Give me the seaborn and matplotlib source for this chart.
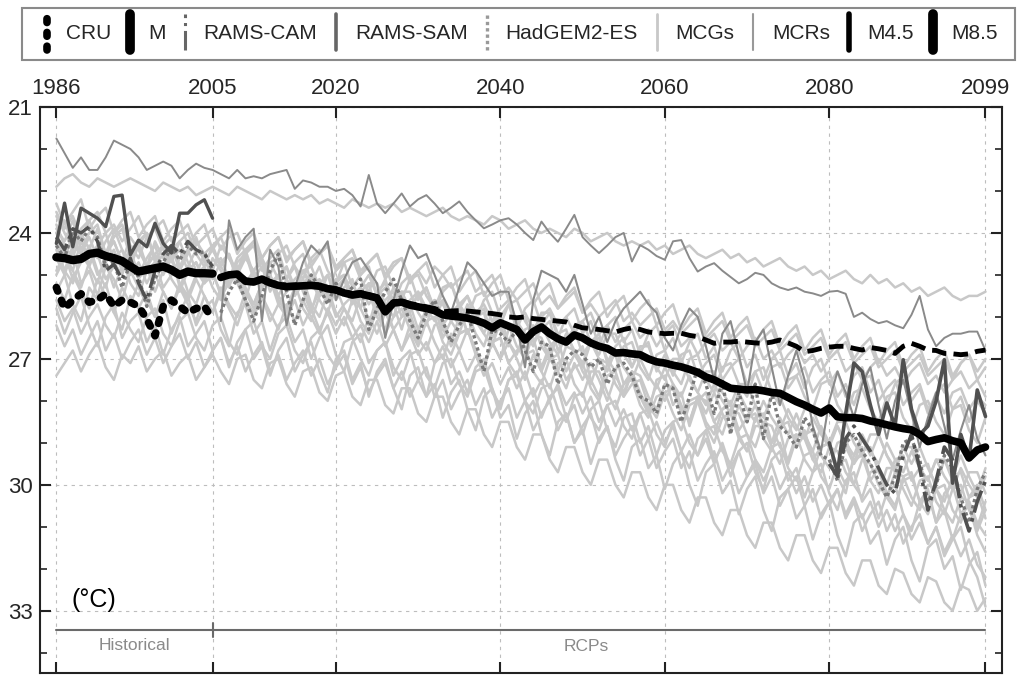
import matplotlib
matplotlib.use("Agg")
import matplotlib.pyplot as plt
import seaborn as sns
from matplotlib.lines import Line2D
from matplotlib.legend_handler import HandlerBase

# ---------------- data ----------------
years_hist = list(range(1986, 2006))
years_fut = list(range(2006, 2100))
years_far = list(range(2080, 2100))
years_all = list(range(1986, 2100))

xticks = [1986, 2005, 2020, 2040, 2060, 2080, 2099]
yticks = [21, 24, 27, 30, 33]

legend_labels = ["CRU", "M", "RAMS-CAM", "RAMS-SAM", "HadGEM2-ES", "MCGs", "MCRs", "M4.5", "M8.5"]

cru = [25.3, 25.8, 25.6, 25.45, 25.65, 25.6, 25.45, 25.75, 25.6, 25.65,
       25.75, 26.05, 26.45, 25.75, 25.6, 25.75, 25.9, 25.8, 25.75, 26.05]

m_hist = [24.58, 24.6, 24.65, 24.62, 24.5, 24.47, 24.55, 24.6, 24.67, 24.8,
          24.92, 24.88, 24.84, 24.8, 24.88, 25.0, 24.92, 24.96, 24.96, 24.97]

m85 = [25.06, 25.00, 24.98, 25.15, 25.17, 25.10, 25.19, 25.25, 25.28, 25.27,
       25.26, 25.25, 25.27, 25.33, 25.36, 25.43, 25.48, 25.45, 25.50, 25.55,
       25.88, 25.67, 25.65, 25.72, 25.76, 25.80, 25.85, 25.95, 25.98, 26.00,
       26.03, 26.08, 26.15, 26.26, 26.14, 26.22, 26.30, 26.55, 26.35, 26.24,
       26.40, 26.52, 26.60, 26.43, 26.50, 26.62, 26.70, 26.75, 26.86, 26.85,
       26.88, 26.90, 27.00, 27.07, 27.10, 27.15, 27.19, 27.25, 27.32, 27.43,
       27.50, 27.60, 27.70, 27.72, 27.74, 27.73, 27.76, 27.80, 27.82, 27.92,
       28.02, 28.10, 28.20, 28.29, 28.17, 28.38, 28.40, 28.40, 28.42, 28.48,
       28.52, 28.57, 28.62, 28.66, 28.69, 28.80, 28.97, 28.92, 28.88, 28.95,
       29.00, 29.36, 29.17, 29.10]

m45 = [25.04, 24.98, 24.97, 25.12, 25.14, 25.08, 25.16, 25.22, 25.25, 25.24,
       25.23, 25.22, 25.24, 25.30, 25.33, 25.40, 25.44, 25.42, 25.47, 25.52,
       25.82, 25.64, 25.62, 25.68, 25.72, 25.76, 25.80, 25.88, 25.86, 25.85,
       25.86, 25.88, 25.90, 25.92, 25.95, 26.00, 26.02, 26.00, 26.04, 26.06,
       26.08, 26.10, 26.12, 26.20, 26.26, 26.28, 26.30, 26.33, 26.36, 26.30,
       26.26, 26.30, 26.36, 26.38, 26.40, 26.39, 26.39, 26.44, 26.47, 26.55,
       26.63, 26.60, 26.60, 26.58, 26.60, 26.62, 26.63, 26.60, 26.55, 26.62,
       26.70, 26.83, 26.80, 26.75, 26.72, 26.70, 26.70, 26.75, 26.79, 26.73,
       26.76, 26.80, 26.87, 26.70, 26.63, 26.70, 26.79, 26.80, 26.87, 26.88,
       26.90, 26.88, 26.82, 26.79]

had_hist = [24.3, 24.6, 23.95, 24.2, 23.9, 24.1, 24.8, 24.7, 25.3, 24.7,
            25.05, 25.75, 25.1, 24.7, 24.35, 24.65, 24.3, 24.5, 24.45, 24.9]
had_fut = [25.9, 25.4, 25.1, 25.6, 26.1, 25.5, 24.9, 24.5, 25.4, 26.2,
           25.6, 25.0, 25.3, 25.7, 25.2, 25.5, 25.3, 25.1, 26.3, 25.8,
           25.4, 25.1, 25.6, 26.1, 26.5, 25.9, 25.6, 26.1, 26.6, 26.2,
           25.9, 26.6, 27.3, 26.3, 26.4, 26.6, 26.3, 26.8, 27.3, 26.6,
           26.7, 27.6, 27.0, 26.8, 26.9, 27.2, 27.0, 27.6, 27.2, 27.1,
           27.4, 27.9, 28.0, 28.3, 27.6, 27.7, 28.5, 27.9, 27.2, 27.6,
           28.3, 27.5, 28.8, 27.8, 28.5, 27.6, 28.9, 27.8, 28.6, 28.8,
           29.1, 28.4, 28.7, 29.3, 29.4, 29.9, 29.0, 28.8, 29.2, 29.5,
           29.9, 30.3, 29.8, 29.0, 28.9, 29.4, 30.4, 30.0, 29.3, 29.6,
           30.3, 30.9, 30.1, 29.7]

cam_hist = [24.1, 24.4, 23.9, 24.0, 23.85, 24.2, 24.9, 24.75, 25.1, 24.6,
            25.2, 25.6, 24.9, 24.5, 24.3, 24.5, 24.2, 24.4, 24.5, 24.8]
cam_far = [29.5, 29.8, 28.9, 28.6, 28.9, 29.2, 29.6, 30.0, 30.2, 29.3,
           28.8, 29.6, 30.6, 29.9, 29.1, 29.4, 30.5, 31.1, 30.4, 29.9]

sam_hist = [24.25, 23.29, 24.33, 23.41, 23.53, 23.65, 23.85, 23.13, 23.1, 24.52,
            24.17, 24.33, 23.77, 24.25, 24.48, 23.53, 23.53, 23.33, 23.21, 23.65]
sam_far = [29.0, 29.7, 28.3, 27.1, 27.3, 28.1, 28.8, 28.05, 28.6, 27.02,
           28.2, 28.8, 28.6, 28.0, 27.02, 29.96, 28.8, 29.4, 27.74, 28.37]

mcr_top = [21.75, 22.1, 22.45, 22.2, 22.5, 22.5, 22.2, 21.8, 21.9, 22.0,
           22.2, 22.5, 22.4, 22.3, 22.4, 22.7, 22.5, 22.35, 22.45, 22.5,
           22.6, 22.7, 22.5, 22.7, 22.65, 22.7, 22.6, 22.55, 22.5, 22.95,
           22.75, 22.8, 22.9, 22.9, 23.0, 22.95, 23.1, 23.37, 22.62, 23.3,
           23.53, 23.3, 23.06, 23.37, 23.2, 23.1, 23.3, 23.53, 23.4, 23.25,
           23.5, 23.7, 23.89, 23.8, 23.7, 23.65, 23.8, 24.0, 24.17, 23.73,
           24.0, 24.21, 23.9, 23.57, 24.1, 24.3, 24.48, 24.3, 24.1, 24.0,
           24.68, 24.29, 24.4, 24.55, 24.64, 24.2, 24.17, 24.6, 24.92, 24.8,
           24.72, 24.9, 25.05, 25.2, 25.1, 24.95, 25.0, 25.2, 25.3, 25.36,
           25.3, 25.4, 25.44, 25.5, 25.4, 25.38, 25.45, 26.0, 25.9, 26.05,
           26.15, 26.1, 26.2, 26.27, 25.95, 25.5, 26.3, 26.7, 26.5, 26.4,
           26.4, 26.35, 26.35, 26.8]

mcr_mid = [26.1, 23.7, 24.4, 24.1, 23.9, 26.1, 24.4, 24.8, 26.2, 25.3,
           24.7, 24.3, 24.5, 24.2, 25.6, 25.1, 24.7, 24.6, 24.9, 25.2,
           26.5, 25.6, 24.9, 24.3, 24.6, 24.5, 25.0, 25.5, 25.9, 25.3,
           24.7, 24.9, 25.2, 25.5, 25.4, 25.4, 26.2, 27.2, 25.6, 24.9,
           25.0, 25.1, 25.4, 25.0, 25.7, 26.4, 26.0, 26.6, 26.1, 25.8,
           25.6, 25.4, 25.7, 25.9, 26.5, 26.8, 26.2, 25.8, 26.0, 26.7,
           27.5, 26.4, 26.1, 26.9, 27.8, 26.6, 26.3, 27.2, 28.1, 27.4,
           26.8, 27.5, 28.6, 29.2, 28.0, 27.3, 27.8, 28.4, 27.6, 27.2,
           28.1, 28.9, 28.0, 27.5, 28.3, 29.1, 28.4, 27.8, 28.6, 29.4,
           28.7, 28.1, 28.9, 29.3]

mcg_1 = [22.9, 22.7, 22.6, 22.8, 22.9, 22.7, 22.8, 22.9, 22.8, 22.7,
         22.8, 22.9, 23.0, 22.8, 22.9, 23.0, 22.9, 23.1, 23.0, 22.9,
         23.0, 23.1, 22.9, 23.0, 23.1, 23.2, 23.0, 23.1, 23.2, 23.1,
         23.2, 23.1, 23.3, 23.2, 23.3, 23.4, 23.2, 23.3, 23.4, 23.3,
         23.4, 23.3, 23.5, 23.4, 23.5, 23.6, 23.5, 23.4, 23.6, 23.7,
         23.6, 23.7, 23.8, 23.6, 23.7, 23.9, 23.8, 23.7, 23.9, 24.0,
         23.9, 24.0, 24.1, 23.9, 24.0, 24.2, 24.1, 24.0, 24.2, 24.3,
         24.2, 24.3, 24.2, 24.4, 24.3, 24.5, 24.4, 24.3, 24.5, 24.6,
         24.5, 24.4, 24.6, 24.5, 24.7, 24.6, 24.8, 24.7, 24.6, 24.8,
         24.9, 24.8, 25.0, 24.9, 25.1, 25.0, 24.9, 25.1, 25.2, 25.0,
         25.2, 25.1, 25.3, 25.2, 25.4, 25.3, 25.5, 25.4, 25.3, 25.5,
         25.6, 25.5, 25.5, 25.4]
mcg_2 = [23.5, 23.9, 23.6, 24.1, 23.7, 23.5, 24.0, 23.8, 24.2, 23.9,
         23.6, 24.1, 23.9, 23.7, 24.2, 24.0, 23.8, 24.3, 24.1, 23.9,
         24.4, 24.1, 24.0, 24.5, 24.2, 24.6, 24.3, 24.1, 24.6, 24.4,
         24.2, 24.7, 24.5, 24.3, 24.8, 24.6, 24.4, 24.9, 24.7, 24.5,
         25.0, 24.7, 24.6, 25.1, 24.9, 25.2, 24.8, 25.0, 25.3, 25.1,
         24.9, 25.4, 25.2, 25.0, 25.5, 25.3, 25.6, 25.4, 25.2, 25.7,
         25.5, 25.8, 25.6, 25.4, 25.9, 25.7, 26.0, 25.8, 25.6, 26.1,
         25.9, 26.2, 26.0, 25.8, 26.3, 26.1, 26.4, 26.2, 26.0, 26.5,
         26.3, 26.1, 26.6, 26.4, 26.2, 26.7, 26.5, 26.3, 26.8, 26.6,
         26.4, 26.9, 26.7, 26.5, 27.0, 26.8, 26.6, 27.1, 26.9, 26.7,
         27.2, 27.0, 26.8, 27.3, 27.1, 26.9, 27.4, 27.2, 27.0, 27.5,
         27.1, 26.9, 27.3, 27.0]
mcg_3 = [23.8, 24.3, 24.6, 24.0, 24.4, 23.9, 24.5, 24.2, 24.7, 24.1,
         24.4, 24.8, 24.2, 24.6, 24.3, 24.9, 24.5, 24.1, 24.7, 24.4,
         24.8, 24.5, 25.0, 24.6, 24.9, 25.2, 24.7, 25.1, 24.8, 25.3,
         24.9, 25.2, 25.5, 25.0, 25.4, 25.1, 25.6, 25.3, 25.0, 25.5,
         25.8, 25.3, 25.6, 25.9, 25.4, 25.8, 26.1, 25.6, 25.9, 26.2,
         25.7, 26.1, 26.4, 25.9, 26.3, 26.6, 26.1, 26.4, 26.7, 26.2,
         26.6, 26.9, 26.4, 26.8, 27.1, 26.6, 27.0, 27.3, 26.8, 27.2,
         27.5, 27.0, 27.4, 27.7, 27.2, 27.6, 27.9, 27.4, 27.8, 28.1,
         27.6, 28.0, 28.3, 27.8, 28.2, 28.5, 28.0, 28.4, 28.7, 28.2,
         28.6, 28.9, 28.4, 28.8, 29.1, 28.6, 29.0, 29.3, 28.8, 29.2,
         29.5, 29.0, 29.4, 29.7, 29.2, 29.6, 29.9, 29.4, 29.8, 30.1,
         29.6, 30.0, 30.3, 29.8]
mcg_4 = [24.0, 23.7, 24.3, 24.5, 24.1, 24.6, 24.2, 23.9, 24.4, 24.8,
         24.3, 24.0, 24.6, 24.9, 24.4, 24.2, 24.7, 25.0, 24.5, 24.3,
         24.8, 25.1, 24.6, 24.4, 25.0, 25.2, 24.7, 24.6, 25.1, 25.4,
         24.9, 24.8, 25.3, 25.6, 25.1, 25.0, 25.5, 25.8, 25.2, 25.2,
         25.7, 26.0, 25.4, 25.4, 25.9, 26.2, 25.6, 25.7, 26.1, 26.4,
         25.8, 25.9, 26.4, 26.7, 26.1, 26.2, 26.7, 27.0, 26.4, 26.5,
         27.0, 27.3, 26.7, 26.8, 27.3, 27.6, 27.0, 27.1, 27.6, 27.9,
         27.3, 27.4, 27.9, 28.2, 27.6, 27.7, 28.2, 28.5, 27.9, 28.0,
         28.5, 28.8, 28.2, 28.3, 28.8, 29.1, 28.5, 28.6, 29.1, 29.4,
         28.8, 28.9, 29.4, 29.7, 29.1, 29.2, 29.7, 30.0, 29.4, 29.5,
         30.0, 30.3, 29.7, 29.8, 30.3, 30.6, 30.0, 30.1, 30.6, 30.9,
         30.3, 30.4, 30.9, 31.2]
mcg_5 = [24.3, 24.9, 25.2, 24.6, 24.4, 25.0, 24.7, 25.3, 24.8, 24.5,
         25.1, 24.8, 25.4, 24.9, 24.6, 25.2, 25.5, 25.0, 24.8, 25.3,
         25.6, 25.1, 24.9, 25.4, 25.7, 25.2, 25.0, 25.6, 25.9, 25.3,
         25.1, 25.7, 26.0, 25.4, 25.3, 25.8, 26.1, 25.5, 25.4, 26.0,
         26.3, 25.7, 25.6, 26.1, 26.4, 25.8, 25.7, 26.3, 26.6, 26.0,
         25.9, 26.4, 26.7, 26.1, 26.0, 26.6, 26.9, 26.3, 26.2, 26.7,
         27.0, 26.4, 26.3, 26.9, 27.2, 26.6, 26.5, 27.0, 27.3, 26.7,
         26.6, 27.2, 27.5, 26.9, 26.8, 27.3, 27.6, 27.0, 26.9, 27.5,
         27.8, 27.2, 27.1, 27.6, 27.9, 27.3, 27.2, 27.8, 28.1, 27.5,
         27.4, 27.9, 28.2, 27.6, 27.5, 28.1, 28.4, 27.8, 27.7, 28.2,
         28.5, 27.9, 27.8, 28.4, 28.7, 28.1, 28.0, 28.5, 28.8, 28.2,
         28.1, 28.7, 29.0, 28.4]
mcg_6 = [24.6, 25.0, 24.4, 25.2, 24.9, 25.5, 24.8, 25.1, 25.6, 24.9,
         25.3, 25.7, 25.0, 25.4, 25.8, 25.2, 25.6, 25.1, 25.5, 25.9,
         25.3, 25.7, 26.0, 25.4, 25.8, 25.5, 26.1, 25.7, 26.0, 25.6,
         26.2, 25.8, 26.3, 25.9, 26.4, 26.0, 26.5, 26.2, 26.6, 26.1,
         26.7, 26.3, 26.8, 26.4, 26.9, 26.6, 27.1, 26.7, 27.2, 26.8,
         27.3, 26.9, 27.4, 27.1, 27.6, 27.2, 27.7, 27.3, 27.9, 27.5,
         28.0, 27.6, 28.1, 27.8, 28.3, 27.9, 28.5, 28.1, 28.6, 28.2,
         28.7, 28.3, 28.9, 28.5, 29.0, 28.6, 29.2, 28.8, 29.3, 28.9,
         29.5, 29.0, 29.6, 29.2, 29.8, 29.4, 29.9, 29.5, 30.1, 29.7,
         30.2, 29.8, 30.4, 30.0, 30.5, 30.1, 30.7, 30.3, 30.8, 30.4,
         31.0, 30.6, 31.1, 30.7, 31.3, 30.9, 31.4, 31.0, 31.6, 31.2,
         31.7, 31.3, 31.9, 32.2]
mcg_7 = [24.9, 24.5, 25.1, 24.7, 24.3, 24.9, 25.3, 24.6, 24.4, 25.0,
         24.7, 25.2, 24.8, 24.5, 25.1, 25.4, 24.9, 24.7, 25.2, 25.0,
         25.4, 25.0, 24.8, 25.3, 25.7, 25.2, 25.0, 25.5, 25.8, 25.3,
         25.2, 25.8, 25.4, 25.3, 25.9, 26.2, 25.6, 25.5, 26.1, 25.8,
         26.4, 26.0, 25.8, 26.3, 26.7, 26.1, 26.0, 26.6, 26.9, 26.4,
         26.3, 26.8, 27.2, 26.6, 26.5, 27.1, 27.4, 26.9, 26.8, 27.3,
         27.7, 27.1, 27.0, 27.6, 27.9, 27.3, 27.3, 27.8, 28.2, 27.6,
         27.5, 28.1, 28.4, 27.9, 27.8, 28.3, 28.7, 28.1, 28.0, 28.6,
         29.0, 28.4, 28.3, 28.9, 29.2, 28.6, 28.6, 29.1, 29.5, 28.9,
         28.8, 29.4, 29.7, 29.1, 29.0, 29.6, 30.0, 29.4, 29.3, 29.9,
         30.2, 29.6, 29.6, 30.1, 30.5, 29.9, 29.8, 30.4, 30.7, 30.1,
         30.0, 30.6, 31.0, 30.4]
mcg_8 = [25.2, 25.6, 25.0, 25.4, 25.8, 25.1, 25.5, 25.9, 25.3, 25.7,
         25.2, 25.6, 26.0, 25.4, 25.8, 25.3, 25.7, 26.1, 25.5, 25.9,
         25.4, 25.8, 26.2, 25.6, 26.0, 25.5, 25.9, 26.3, 25.7, 26.1,
         25.6, 26.0, 26.4, 25.8, 26.2, 25.8, 26.2, 26.6, 26.0, 26.4,
         25.9, 26.3, 26.8, 26.2, 26.6, 26.1, 26.6, 27.0, 26.4, 26.8,
         26.3, 26.8, 27.2, 26.6, 27.0, 26.6, 27.0, 27.5, 26.9, 27.3,
         26.8, 27.3, 27.7, 27.1, 27.5, 27.1, 27.5, 28.0, 27.4, 27.8,
         27.3, 27.8, 28.2, 27.6, 28.0, 27.6, 28.1, 28.5, 27.9, 28.3,
         27.8, 28.3, 28.7, 28.1, 28.5, 28.1, 28.6, 29.0, 28.4, 28.8,
         28.3, 28.8, 29.2, 28.6, 29.0, 28.6, 29.1, 29.5, 28.9, 29.3,
         28.8, 29.3, 29.7, 29.1, 29.5, 29.1, 29.6, 30.0, 29.4, 29.8,
         29.3, 29.8, 30.2, 29.6]
mcg_9 = [25.6, 26.1, 25.8, 26.4, 26.0, 25.7, 26.2, 26.5, 25.9, 26.3,
         26.6, 26.0, 25.8, 26.4, 26.7, 26.1, 25.9, 26.5, 26.8, 26.2,
         26.0, 26.6, 26.9, 26.3, 26.1, 26.7, 27.0, 26.4, 26.2, 26.8,
         27.1, 26.5, 26.3, 26.9, 27.2, 26.6, 26.5, 27.0, 27.4, 26.8,
         26.6, 27.2, 27.5, 26.9, 26.8, 27.4, 27.7, 27.1, 27.0, 27.6,
         27.9, 27.3, 27.2, 27.8, 28.1, 27.5, 27.4, 28.0, 28.3, 27.7,
         27.6, 28.2, 28.5, 27.9, 27.8, 28.4, 28.7, 28.1, 28.0, 28.6,
         28.9, 28.3, 28.2, 28.8, 29.1, 28.5, 28.4, 29.0, 29.3, 28.7,
         28.6, 29.2, 29.5, 28.9, 28.8, 29.4, 29.7, 29.1, 29.0, 29.6,
         29.9, 29.3, 29.2, 29.8, 30.1, 29.5, 29.4, 30.0, 30.3, 29.7,
         29.6, 30.2, 30.5, 29.9, 29.8, 30.4, 30.7, 30.1, 30.0, 30.6,
         30.9, 30.3, 30.2, 30.8]
mcg_10 = [26.2, 26.7, 26.3, 26.9, 26.5, 26.1, 26.8, 26.4, 27.0, 26.6,
          26.3, 26.9, 26.5, 27.1, 26.7, 26.4, 27.0, 26.6, 27.2, 26.8,
          26.5, 27.1, 26.7, 27.3, 26.9, 26.6, 27.3, 26.9, 27.5, 27.1,
          26.8, 27.4, 27.0, 27.6, 27.2, 26.9, 27.6, 27.2, 27.8, 27.4,
          27.1, 27.7, 27.3, 27.9, 27.5, 27.2, 27.9, 27.5, 28.2, 27.8,
          27.5, 28.1, 27.7, 28.4, 28.0, 27.7, 28.4, 28.0, 28.7, 28.3,
          28.0, 28.7, 28.3, 29.0, 28.6, 28.3, 29.0, 28.6, 29.3, 28.9,
          28.6, 29.3, 28.9, 29.6, 29.2, 28.9, 29.6, 29.2, 29.9, 29.5,
          29.2, 29.9, 29.5, 30.2, 29.8, 29.5, 30.2, 29.8, 30.5, 30.1,
          29.8, 30.5, 30.1, 30.8, 30.4, 30.1, 30.8, 30.4, 31.1, 30.7,
          30.4, 31.1, 30.7, 31.4, 31.0, 30.7, 31.4, 31.0, 31.7, 31.3,
          31.0, 31.8, 32.2, 32.9]
mcg_11 = [27.4, 27.1, 26.8, 27.3, 26.9, 26.6, 27.2, 27.5, 26.9, 27.1,
          26.7, 27.3, 27.0, 26.8, 27.4, 27.1, 26.9, 27.5, 27.2, 26.9,
          27.3, 27.6, 27.0, 26.9, 27.5, 27.7, 27.1, 27.0, 27.6, 27.9,
          27.3, 27.2, 27.8, 28.0, 27.4, 27.3, 27.9, 28.1, 27.5, 27.5,
          28.1, 28.3, 27.7, 27.7, 28.3, 28.5, 27.9, 27.9, 28.5, 28.8,
          28.2, 28.2, 28.8, 29.1, 28.5, 28.5, 29.1, 29.4, 28.8, 28.8,
          29.4, 29.7, 29.1, 29.1, 29.7, 30.0, 29.4, 29.4, 30.0, 30.3,
          29.7, 29.7, 30.3, 30.6, 30.0, 30.0, 30.6, 30.9, 30.3, 30.3,
          30.9, 31.2, 30.6, 30.6, 31.2, 31.5, 30.9, 30.9, 31.5, 31.8,
          31.2, 31.2, 31.8, 32.1, 31.5, 31.5, 32.1, 32.4, 31.8, 31.8,
          32.4, 32.6, 32.0, 32.1, 32.6, 32.8, 32.2, 32.3, 32.8, 33.0,
          32.4, 32.5, 33.0, 32.7]
mcg_12 = [24.2, 24.6, 24.1, 24.5, 24.8, 24.3, 24.7, 24.4, 24.9, 24.6,
          24.3, 24.8, 24.5, 25.0, 24.6, 24.4, 24.9, 24.7, 25.1, 24.8,
          24.6, 25.1, 24.8, 25.2, 24.9, 24.7, 25.2, 25.0, 25.4, 25.1,
          24.9, 25.3, 25.1, 25.5, 25.2, 25.0, 25.5, 25.3, 25.7, 25.4,
          25.2, 25.6, 25.4, 25.8, 25.5, 25.3, 25.8, 25.6, 26.0, 25.7,
          25.5, 25.9, 25.7, 26.1, 25.8, 25.6, 26.1, 25.9, 26.3, 26.0,
          25.8, 26.2, 26.0, 26.4, 26.1, 25.9, 26.4, 26.2, 26.6, 26.3,
          26.1, 26.5, 26.3, 26.7, 26.4, 26.2, 26.7, 26.5, 26.9, 26.6,
          26.4, 26.8, 26.6, 27.0, 26.7, 26.5, 27.0, 26.8, 27.2, 26.9,
          26.7, 27.1, 26.9, 27.3, 27.0, 26.8, 27.3, 27.1, 27.5, 27.2,
          27.0, 27.4, 27.2, 27.6, 27.3, 27.1, 27.6, 27.4, 27.8, 27.5,
          27.3, 27.7, 27.5, 27.9]
mcg_13 = [23.6, 24.0, 24.4, 23.9, 23.7, 24.2, 24.5, 24.0, 23.8, 24.3,
          24.6, 24.1, 23.9, 24.4, 24.7, 24.2, 24.0, 24.5, 24.8, 24.3,
          24.1, 24.6, 24.9, 24.4, 24.2, 24.7, 25.0, 24.5, 24.3, 24.8,
          25.1, 24.6, 24.4, 24.9, 25.2, 24.7, 24.6, 25.1, 25.4, 24.9,
          24.8, 25.3, 25.6, 25.1, 25.0, 25.5, 25.8, 25.3, 25.2, 25.7,
          26.0, 25.5, 25.4, 25.9, 26.2, 25.7, 25.6, 26.1, 26.4, 25.9,
          25.9, 26.4, 26.7, 26.2, 26.1, 26.6, 26.9, 26.4, 26.4, 26.9,
          27.2, 26.7, 26.7, 27.2, 27.5, 27.0, 27.0, 27.5, 27.8, 27.3,
          27.3, 27.8, 28.1, 27.6, 27.6, 28.1, 28.4, 27.9, 27.9, 28.4,
          28.7, 28.2, 28.2, 28.7, 29.0, 28.5, 28.5, 29.0, 29.3, 28.8,
          28.8, 29.3, 29.6, 29.1, 29.1, 29.6, 29.9, 29.4, 29.4, 29.9,
          30.2, 29.7, 29.7, 30.2]
mcg_14 = [25.0, 24.6, 24.9, 25.3, 24.7, 24.5, 25.1, 24.8, 24.6, 25.2,
          25.5, 24.9, 24.7, 25.3, 25.0, 24.8, 25.4, 25.7, 25.1, 24.9,
          25.5, 25.2, 25.0, 25.6, 25.9, 25.3, 25.1, 25.7, 25.4, 25.2,
          25.8, 26.1, 25.5, 25.4, 26.0, 25.7, 25.5, 26.1, 26.4, 25.8,
          25.7, 26.3, 26.0, 25.9, 26.5, 26.8, 26.2, 26.1, 26.7, 26.4,
          26.3, 26.9, 27.2, 26.6, 26.5, 27.1, 26.8, 26.7, 27.3, 27.6,
          27.0, 26.9, 27.5, 27.2, 27.1, 27.7, 28.0, 27.4, 27.3, 27.9,
          27.6, 27.5, 28.1, 28.4, 27.8, 27.7, 28.3, 28.0, 27.9, 28.5,
          28.8, 28.2, 28.1, 28.7, 28.4, 28.3, 28.9, 29.2, 28.6, 28.5,
          29.1, 28.8, 28.7, 29.3, 29.6, 29.0, 28.9, 29.5, 29.2, 29.1,
          29.7, 30.0, 29.4, 29.3, 29.9, 29.6, 29.5, 30.1, 30.4, 29.8,
          29.7, 30.3, 30.0, 30.6]
mcg_15 = [24.4, 24.9, 24.3, 24.1, 24.8, 25.2, 24.5, 24.2, 24.7, 24.4,
          25.0, 24.6, 24.3, 24.9, 24.5, 25.3, 24.8, 24.4, 24.6, 25.1,
          24.7, 24.5, 25.2, 25.6, 24.9, 24.6, 25.0, 25.5, 25.1, 24.8,
          25.4, 25.9, 25.2, 25.0, 25.6, 25.3, 25.1, 25.8, 26.2, 25.5,
          25.3, 25.7, 26.3, 25.6, 25.4, 26.0, 25.7, 26.5, 26.1, 25.8,
          26.4, 26.0, 25.9, 26.6, 27.0, 26.3, 26.1, 26.8, 26.5, 27.2,
          26.7, 26.5, 27.3, 26.9, 26.7, 27.5, 27.9, 27.1, 26.9, 27.6,
          27.3, 27.9, 28.3, 27.5, 27.4, 28.1, 27.8, 28.6, 28.0, 27.8,
          28.5, 28.2, 28.0, 28.8, 29.2, 28.4, 28.3, 29.0, 28.7, 29.5,
          28.9, 28.7, 29.4, 29.1, 29.0, 29.8, 30.2, 29.3, 29.1, 29.9,
          29.6, 30.3, 30.6, 29.8, 29.7, 30.4, 30.1, 30.9, 30.2, 30.0,
          30.7, 30.4, 31.1, 30.6]
mcg_16 = [24.0, 24.5, 24.9, 24.2, 24.6, 24.3, 24.0, 24.7, 25.0, 24.4,
          24.2, 24.8, 24.5, 24.3, 25.0, 24.6, 24.4, 24.9, 25.2, 24.6,
          24.9, 25.3, 24.7, 24.5, 25.1, 24.8, 25.4, 25.0, 24.8, 25.5,
          25.2, 25.0, 25.6, 25.9, 25.3, 25.1, 25.7, 25.4, 25.2, 25.9,
          25.6, 25.4, 26.0, 25.7, 26.3, 25.8, 25.6, 26.2, 25.9, 25.7,
          26.4, 26.0, 25.8, 26.5, 26.2, 26.7, 26.1, 26.0, 26.6, 26.3,
          26.1, 26.8, 26.5, 26.3, 26.9, 26.6, 26.4, 27.1, 26.7, 26.5,
          27.2, 26.8, 26.6, 27.3, 26.9, 27.4, 26.9, 26.8, 27.4, 27.1,
          26.9, 27.5, 27.2, 27.0, 27.6, 27.3, 27.8, 27.2, 27.1, 27.7,
          27.4, 27.2, 27.8, 27.5, 27.3, 27.9, 27.6, 28.1, 27.5, 27.4,
          28.0, 27.7, 27.5, 28.1, 27.8, 27.6, 28.2, 27.9, 28.3, 27.8,
          27.7, 28.2, 27.9, 28.1]
mcg_17 = [25.4, 25.0, 25.7, 26.1, 25.3, 25.6, 25.2, 25.9, 26.3, 25.5,
          25.8, 25.4, 26.0, 25.6, 26.4, 25.9, 25.5, 26.2, 25.8, 25.6,
          26.3, 26.7, 25.9, 25.7, 26.4, 26.1, 26.8, 26.2, 26.0, 26.6,
          26.3, 27.0, 26.5, 26.2, 26.9, 27.3, 26.6, 26.4, 27.1, 26.8,
          26.6, 27.4, 27.0, 26.8, 27.5, 27.9, 27.1, 26.9, 27.6, 27.3,
          27.8, 27.2, 27.0, 27.7, 28.2, 27.5, 27.3, 28.0, 27.7, 28.4,
          27.9, 27.7, 28.4, 28.1, 28.8, 28.2, 28.0, 28.7, 29.1, 28.4,
          28.3, 29.0, 28.6, 29.3, 28.7, 28.5, 29.2, 29.6, 28.9, 28.7,
          29.4, 29.1, 29.8, 29.2, 29.0, 29.7, 30.1, 29.4, 29.2, 29.9,
          29.6, 30.3, 29.7, 29.5, 30.2, 30.6, 29.9, 29.7, 30.4, 30.1,
          30.8, 30.2, 30.0, 30.7, 31.1, 30.4, 30.2, 30.9, 30.6, 31.3,
          30.7, 30.5, 31.2, 31.6]
mcg_18 = [23.9, 24.2, 23.7, 24.4, 24.0, 23.8, 24.5, 24.1, 23.9, 24.6,
          24.2, 24.0, 24.7, 24.3, 24.1, 24.8, 24.4, 24.2, 24.5, 24.9,
          24.3, 24.6, 25.0, 24.5, 24.3, 24.9, 24.6, 24.4, 25.1, 24.7,
          24.5, 25.2, 24.8, 25.4, 24.9, 24.7, 25.3, 25.0, 24.8, 25.5,
          25.1, 25.7, 25.2, 25.0, 25.6, 25.3, 25.9, 25.4, 25.2, 25.8,
          25.5, 26.1, 25.6, 25.4, 26.0, 25.7, 26.3, 25.8, 25.6, 26.2,
          25.9, 26.5, 26.0, 25.8, 26.4, 26.1, 26.7, 26.2, 26.0, 26.6,
          26.3, 26.9, 26.4, 26.2, 26.8, 26.5, 27.1, 26.6, 26.4, 27.0,
          26.7, 27.3, 26.8, 26.6, 27.2, 26.9, 27.5, 27.0, 26.8, 27.4,
          27.1, 27.7, 27.2, 27.0, 27.6, 27.3, 27.9, 27.4, 27.2, 27.8,
          27.5, 28.1, 27.6, 27.4, 28.0, 27.7, 28.3, 27.8, 27.6, 28.2,
          27.9, 28.5, 28.0, 28.3]
mcg_19 = [25.8, 26.4, 25.9, 25.5, 26.2, 26.7, 26.0, 25.7, 26.5, 26.1,
          25.9, 26.6, 26.2, 26.9, 26.3, 26.0, 26.7, 26.4, 26.1, 26.8,
          26.5, 27.2, 26.6, 26.3, 27.0, 26.7, 27.4, 26.8, 26.5, 27.3,
          26.9, 26.6, 27.3, 27.8, 27.0, 26.8, 27.5, 27.1, 27.9, 27.3,
          27.0, 27.7, 28.2, 27.4, 27.2, 27.9, 27.6, 28.4, 27.8, 27.5,
          28.2, 28.7, 27.9, 27.7, 28.4, 28.1, 28.9, 28.3, 28.0, 28.8,
          29.3, 28.5, 28.3, 29.0, 28.7, 29.5, 28.9, 28.6, 29.4, 29.9,
          29.1, 28.9, 29.6, 29.3, 30.1, 29.5, 29.2, 30.0, 30.5, 29.7,
          29.5, 30.2, 29.9, 30.7, 30.1, 29.8, 30.6, 31.1, 30.3, 30.1,
          30.8, 30.5, 31.3, 30.7, 30.4, 31.2, 31.7, 30.9, 30.7, 31.4,
          31.1, 31.9, 31.3, 31.0, 31.8, 32.3, 31.5, 31.3, 32.0, 31.7,
          32.5, 31.9, 31.6, 32.4]
mcg_20 = [23.3, 23.8, 23.5, 23.2, 23.9, 23.6, 23.4, 24.0, 23.7, 23.5,
          24.1, 23.8, 23.6, 24.2, 23.9, 23.7, 24.3, 24.0, 23.8, 24.4,
          24.1, 23.9, 24.5, 24.2, 24.0, 24.6, 24.3, 24.1, 24.7, 24.4,
          24.2, 24.8, 24.5, 24.3, 24.9, 24.6, 24.4, 25.0, 24.7, 24.5,
          25.1, 24.8, 24.6, 25.2, 24.9, 24.7, 25.3, 25.0, 24.8, 25.4,
          25.1, 24.9, 25.5, 25.2, 25.0, 25.6, 25.3, 25.1, 25.7, 25.4,
          25.2, 25.8, 25.5, 25.3, 25.9, 25.6, 25.4, 26.0, 25.7, 25.5,
          26.1, 25.8, 25.6, 26.2, 25.9, 25.7, 26.3, 26.0, 25.8, 26.4,
          26.1, 25.9, 26.5, 26.2, 26.0, 26.6, 26.3, 26.1, 26.7, 26.4,
          26.2, 26.8, 26.5, 26.3, 26.9, 26.6, 26.4, 27.0, 26.7, 26.5,
          27.1, 26.8, 26.6, 27.2, 26.9, 26.7, 27.3, 27.0, 26.8, 27.4,
          27.1, 26.9, 27.5, 27.2]

mcg_series = [mcg_1, mcg_2, mcg_3, mcg_4, mcg_5, mcg_6, mcg_7, mcg_8, mcg_9, mcg_10,
              mcg_11, mcg_12, mcg_13, mcg_14, mcg_15, mcg_16, mcg_17, mcg_18, mcg_19, mcg_20]

# ---------------- styles ----------------
C_MCG = "#c8c8c8"
C_MCR = "#8a8a8a"
C_SAM = "#505050"
C_CAM = "#505050"
C_HAD = "#7a7a7a"

sns.set_theme(style="white")
plt.rcParams["font.family"] = ["Liberation Sans", "DejaVu Sans"]

fig = plt.figure(figsize=(10.23, 6.77), dpi=100)
ax = fig.add_axes([0.039, 0.006, 0.9404, 0.836])


def draw(x, y, **kw):
    sns.lineplot(x=x, y=y, ax=ax, legend=False, **kw)


for s in mcg_series:
    draw(years_all, s, color=C_MCG, linewidth=1.8)

draw(years_all, mcr_top, color=C_MCR, linewidth=1.4)
draw(years_fut, mcr_mid, color=C_MCR, linewidth=1.5)

draw(years_hist, had_hist, color=C_HAD, linewidth=2.4, linestyle=(0, (1.0, 0.9)))
draw(years_fut, had_fut, color=C_HAD, linewidth=2.4, linestyle=(0, (1.0, 0.9)))
draw(years_hist, cam_hist, color=C_CAM, linewidth=2.4, linestyle="-.")
draw(years_far, cam_far, color=C_CAM, linewidth=2.6, linestyle="-.")
draw(years_hist, sam_hist, color=C_SAM, linewidth=2.4)
draw(years_far, sam_far, color=C_SAM, linewidth=2.6)

draw(years_hist, cru, color="black", linewidth=5.5, linestyle=(0, (0.5, 1.3)),
     dash_capstyle="round")
draw(years_hist, m_hist, color="black", linewidth=6, solid_capstyle="round")
draw(years_fut, m45, color="black", linewidth=3.5, linestyle=(0, (3.0, 1.5)))
draw(years_fut, m85, color="black", linewidth=5.5, solid_capstyle="round")

# axes styling
ax.set_xlim(1984, 2101)
ax.set_ylim(34.48, 21)
ax.set_xticks(xticks)
ax.set_xticklabels([str(v) for v in xticks])
ax.set_yticks(yticks)
ax.set_yticklabels([str(v) for v in yticks])
ax.set_yticks(list(range(21, 35)), minor=True)
ax.set_xlabel("")
ax.set_ylabel("")
ax.xaxis.tick_top()
ax.tick_params(axis="x", which="major", top=True, bottom=True, labeltop=True,
               labelbottom=False, direction="in", length=8, width=1.5,
               color="#222222", labelsize=16, pad=6)
ax.tick_params(axis="y", which="major", left=True, right=True, labelleft=True,
               labelright=False, direction="in", length=8, width=1.5,
               color="#222222", labelsize=16, pad=5)
ax.tick_params(axis="y", which="minor", left=True, right=True,
               direction="in", length=5, width=1.2, color="#222222")
ax.grid(True, which="major", linestyle=(0, (3, 4)), color="#bdbdbd", linewidth=0.8)
ax.set_axisbelow(True)
for sp in ax.spines.values():
    sp.set_visible(True)
    sp.set_color("#222222")
    sp.set_linewidth(1.5)

# period bar
ax.plot([1986, 2099], [33.45, 33.45], color="#6a6a6a", linewidth=1.5)
ax.plot([2005, 2005], [33.28, 33.62], color="#6a6a6a", linewidth=1.5)
ax.text(1995.5, 33.82, "Historical", ha="center", va="center", fontsize=12.5, color="#8a8a8a")
ax.text(2050.5, 33.84, "RCPs", ha="center", va="center", fontsize=12.5, color="#8a8a8a")
ax.text(1987.8, 32.75, "(°C)", ha="left", va="center", fontsize=18, color="black")


# legend with vertical handles
class VLineHandler(HandlerBase):
    def create_artists(self, legend, orig_handle, xdescent, ydescent, width,
                       height, fontsize, trans):
        cx = -xdescent + width / 2.0
        y0 = -ydescent - 0.75 * height
        y1 = -ydescent + 1.75 * height
        line = Line2D([cx, cx], [y0, y1])
        line.update_from(orig_handle)
        line.set_transform(trans)
        return [line]


handles = [
    Line2D([], [], color="black", linewidth=5.5, linestyle=(0, (0.5, 1.3)), dash_capstyle="round"),
    Line2D([], [], color="black", linewidth=7, solid_capstyle="round"),
    Line2D([], [], color="#666666", linewidth=2.2, linestyle="-."),
    Line2D([], [], color="#666666", linewidth=2.6),
    Line2D([], [], color="#999999", linewidth=2.4, linestyle=(0, (1.0, 0.9))),
    Line2D([], [], color=C_MCG, linewidth=2.0),
    Line2D([], [], color="#999999", linewidth=1.5),
    Line2D([], [], color="black", linewidth=4, solid_capstyle="round"),
    Line2D([], [], color="black", linewidth=7, solid_capstyle="round"),
]
leg = fig.legend(handles=handles, labels=legend_labels,
                 handler_map={Line2D: VLineHandler()},
                 loc="lower left", bbox_to_anchor=(0.0215, 0.9114, 0.9705, 0.084),
                 mode="expand", ncol=9, frameon=True, fancybox=False,
                 edgecolor="#8a8a8a", framealpha=1, fontsize=15,
                 handlelength=0.8, handletextpad=0.5, borderaxespad=0,
                 borderpad=0.8, columnspacing=1.0)
leg.get_frame().set_linewidth(1.5)

fig.savefig("out.png", dpi=100)
